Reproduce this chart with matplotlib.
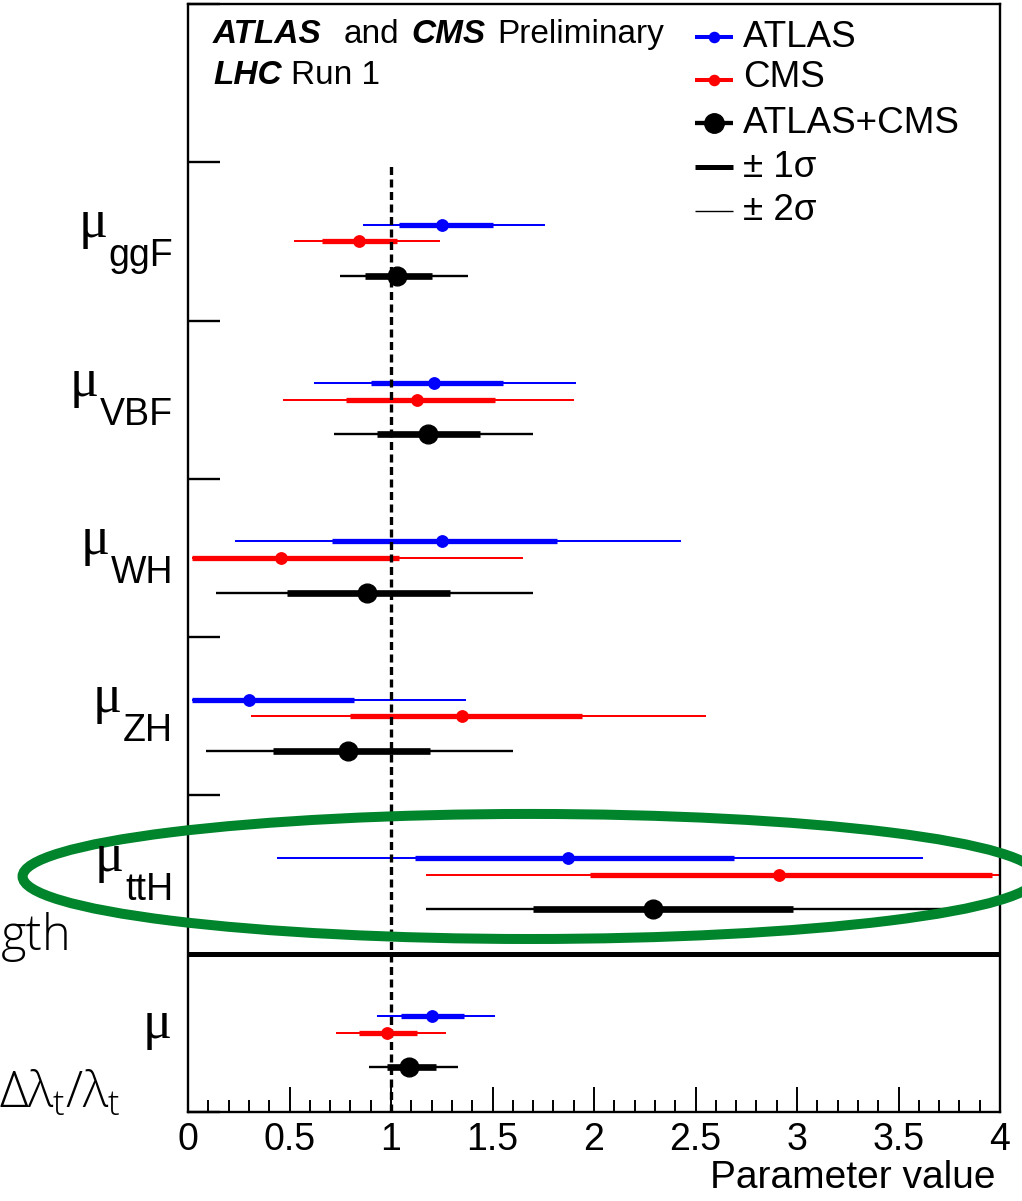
import numpy as np
import matplotlib
matplotlib.use("Agg")
import matplotlib.pyplot as plt
import matplotlib.transforms as mtrans
from matplotlib.lines import Line2D
from matplotlib.patches import Ellipse
from matplotlib.ticker import NullLocator

plt.rcParams['font.family'] = ['Liberation Sans', 'DejaVu Sans']
plt.rcParams['mathtext.fontset'] = 'custom'
plt.rcParams['mathtext.rm'] = 'Open Sans:light'
plt.rcParams['mathtext.it'] = 'Open Sans:light'
plt.rcParams['mathtext.bf'] = 'Open Sans'

# ---- measured signal strengths (central, 1 sigma, 2 sigma intervals) ----
processes = ['ggF', 'VBF', 'WH', 'ZH', 'ttH', '']

atlas_mu  = [1.25, 1.21, 1.25, 0.30, 1.87, 1.20]
atlas_lo1 = [1.04, 0.90, 0.71, 0.02, 1.12, 1.05]
atlas_hi1 = [1.50, 1.55, 1.82, 0.82, 2.69, 1.36]
atlas_lo2 = [0.86, 0.62, 0.23, 0.02, 0.44, 0.93]
atlas_hi2 = [1.76, 1.91, 2.43, 1.37, 3.62, 1.51]

cms_mu  = [0.84, 1.13, 0.46, 1.35, 2.91, 0.98]
cms_lo1 = [0.66, 0.78, 0.02, 0.80, 1.98, 0.84]
cms_hi1 = [1.03, 1.51, 1.04, 1.94, 3.96, 1.13]
cms_lo2 = [0.52, 0.47, 0.02, 0.31, 1.17, 0.73]
cms_hi2 = [1.24, 1.90, 1.65, 2.55, 4.00, 1.27]

comb_mu  = [1.03, 1.18, 0.88, 0.79, 2.29, 1.09]
comb_lo1 = [0.87, 0.93, 0.49, 0.42, 1.70, 0.98]
comb_hi1 = [1.20, 1.44, 1.29, 1.19, 2.98, 1.22]
comb_lo2 = [0.75, 0.72, 0.14, 0.09, 1.17, 0.89]
comb_hi2 = [1.38, 1.70, 1.70, 1.60, 3.75, 1.33]

xtick_vals = [0, 0.5, 1, 1.5, 2, 2.5, 3, 3.5, 4]
xtick_labels = ['0', '0.5', '1', '1.5', '2', '2.5', '3', '3.5', '4']

# ---- figure / frame ----
W, H = 1022, 1201
fig = plt.figure(figsize=(W / 100, H / 100), dpi=100)
ax = fig.add_axes([188 / W, 1 - 1112 / H, 812 / W, 1108 / H])
ax.set_xlim(0, 4)
ax.set_ylim(0, 7)

group_top = np.array([6, 5, 4, 3, 2, 1], dtype=float)

series = [
    dict(mu=atlas_mu, lo1=atlas_lo1, hi1=atlas_hi1, lo2=atlas_lo2, hi2=atlas_hi2,
         color='#0000ff', off=0.395, thick=3.8, thin=1.45, ms=8.2),
    dict(mu=cms_mu, lo1=cms_lo1, hi1=cms_hi1, lo2=cms_lo2, hi2=cms_hi2,
         color='#ff0000', off=0.50, thick=3.8, thin=1.45, ms=8.2),
    dict(mu=comb_mu, lo1=comb_lo1, hi1=comb_hi1, lo2=comb_lo2, hi2=comb_hi2,
         color='#000000', off=0.718, thick=4.8, thin=1.7, ms=13.5),
]

for s in series:
    y = group_top - s['off']
    ax.hlines(y, s['lo2'], s['hi2'], colors=s['color'], linewidth=s['thin'],
              capstyle='butt', zorder=2)
    ax.hlines(y, s['lo1'], s['hi1'], colors=s['color'], linewidth=s['thick'],
              capstyle='butt', zorder=2.1)
    ax.plot(s['mu'], y, linestyle='none', marker='o', markersize=s['ms'],
            color=s['color'], markeredgecolor=s['color'], zorder=3)

# SM expectation and separator between production modes and global mu
ax.vlines(1, 0, 6, colors='k', linewidth=2.4, linestyles=(0, (2.4, 1.35)), zorder=2.5)
ax.axhline(1, color='k', linewidth=3.6, zorder=2.6)

# ---- axes styling ----
for sp in ax.spines.values():
    sp.set_linewidth(1.7)
ax.set_xticks(xtick_vals)
ax.set_xticklabels(xtick_labels)
ax.set_xticks(np.arange(0, 4.001, 0.1), minor=True)
ax.tick_params(axis='x', which='major', direction='in', length=18, width=1.4,
               top=False, pad=7)
ax.tick_params(axis='x', which='minor', direction='in', length=9, width=1.4, top=False)
ax.set_yticks(range(0, 8))
ax.set_yticklabels([])
ax.yaxis.set_minor_locator(NullLocator())
ax.tick_params(axis='y', which='major', direction='in', length=23, width=1.7, right=False)
for lbl in ax.get_xticklabels():
    lbl.set_fontsize(27)

fig.text(996 / W, 1 - 1188 / H, 'Parameter value', ha='right', va='baseline',
         fontsize=28)

renderer = fig.canvas.get_renderer()

# ---- header ----
def place_run(x_px, base_px, pieces):
    x = x_px
    for text, gap, kw in pieces:
        x += gap
        t = fig.text(x / W, 1 - base_px / H, text, ha='left', va='baseline', **kw)
        x = t.get_window_extent(renderer).x1

bi = dict(fontsize=24, fontweight='bold', fontstyle='italic')
rg = dict(fontsize=24)
place_run(213, 43, [('ATLAS', 0, bi), ('and', 22, rg), ('CMS', 12, bi),
                    ('Preliminary', 12, rg)])
place_run(213, 84, [('LHC', 0, bi), ('Run 1', 9, rg)])

# ---- legend ----
def axfrac(px, py):
    return (px - 188) / 812, (1112 - py) / 1108

legend_rows = [
    ('ATLAS', '#0000ff', 2.9, 7.3, 36.7, 46.7),
    ('CMS', '#ff0000', 2.9, 7.3, 80.0, 87.3),
    ('ATLAS+CMS', '#000000', 3.1, 14.0, 123.3, 133.3),
    ('\u00b1 1\u03c3', '#000000', 3.6, 0, 166.7, 176.7),
    ('\u00b1 2\u03c3', '#000000', 1.0, 0, 210.7, 220.0),
]
for label, col, lw, ms, yline, ybase in legend_rows:
    x0, yl = axfrac(695, yline)
    x1, _ = axfrac(733, yline)
    ax.add_line(Line2D([x0, x1], [yl, yl], transform=ax.transAxes, color=col,
                       linewidth=lw, solid_capstyle='butt', clip_on=False, zorder=4))
    if ms:
        ax.plot([(x0 + x1) / 2], [yl], transform=ax.transAxes, marker='o',
                markersize=ms, color=col, clip_on=False, zorder=4)
    xt, yt = axfrac(743, ybase)
    ax.text(xt, yt, label, transform=ax.transAxes, ha='left', va='baseline',
            fontsize=26.5)

# ---- row labels ----
blend = mtrans.blended_transform_factory(fig.transFigure, ax.transData)
for name, top in zip(processes, group_top):
    yc = top - 0.5
    if name:
        tsub = fig.text(173 / W, yc, name, ha='right', va='baseline', fontsize=27,
                        transform=mtrans.offset_copy(blend, fig=fig, y=-25, units='dots'))
        bb = tsub.get_window_extent(renderer)
        fig.text((bb.x0 - 1) / W, yc, '\u03bc', ha='right', va='baseline',
                 fontsize=39, fontfamily='Liberation Serif',
                 transform=mtrans.offset_copy(blend, fig=fig, y=4, units='dots'))
    else:
        fig.text(172 / W, yc, '\u03bc', ha='right', va='baseline',
                 fontsize=39, fontfamily='Liberation Serif',
                 transform=mtrans.offset_copy(blend, fig=fig, y=-5, units='dots'))

fig.text(1 / W, 1 - 950 / H, 'gth', ha='left', va='baseline',
         fontsize=35, fontfamily='Open Sans', fontweight='light')
fig.text(121 / W, 1 - 1108 / H, r'$\Delta\lambda_t/\lambda_t$', ha='right',
         va='baseline', fontsize=36)

# highlight of the ttH row
ax.add_patch(Ellipse((1.685, 1.488), 5.00, 0.79, fill=False,
                     edgecolor='#00852c', linewidth=7.2, clip_on=False, zorder=10))

fig.savefig('out.png', dpi=100)
